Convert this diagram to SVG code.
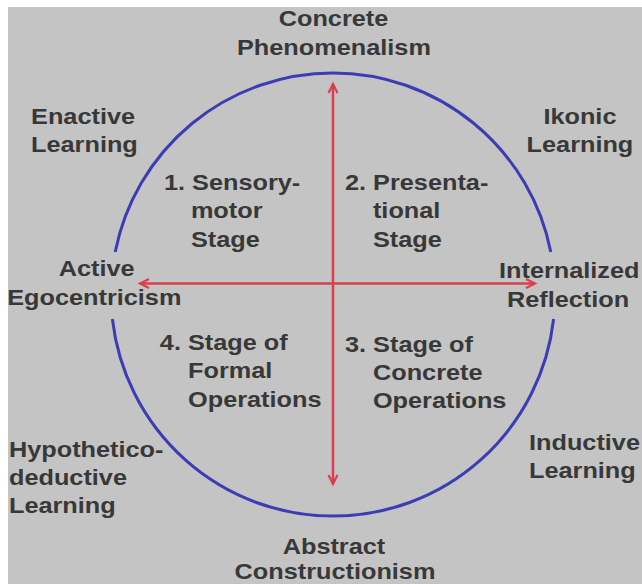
<svg xmlns="http://www.w3.org/2000/svg" width="642" height="584" viewBox="0 0 642 584">
<style>
text{font-family:"Liberation Sans",Arial,sans-serif;font-size:22px;font-weight:bold;fill:#383838}
.m{text-anchor:middle}
.arc{fill:none;stroke:#3c3cb4;stroke-width:3}
.axis{stroke:#d8404e;stroke-width:2.5;fill:none}
</style>
<defs>
<marker id="ah" markerUnits="userSpaceOnUse" markerWidth="14" markerHeight="14" refX="11" refY="6" orient="auto-start-reverse">
<path d="M2,1.5 L11,6 L2,10.5" fill="none" stroke="#d8404e" stroke-width="2.2"/>
</marker>
</defs>
<rect width="642" height="584" fill="#ffffff"/>
<rect x="8" y="7" width="634" height="577" fill="#c4c4c4"/>
<g id="cycle">
<path class="arc" d="M115.2,252 A222,222 0 0 1 550.8,252"/>
<path class="arc" d="M112.4,319 A222,222 0 0 0 553.6,319"/>
</g>
<g id="connectors">
<line class="axis" x1="333" y1="484" x2="333" y2="84" marker-end="url(#ah)" marker-start="url(#ah)"/>
<line class="axis" x1="140" y1="283.5" x2="535" y2="283.5" marker-end="url(#ah)" marker-start="url(#ah)"/>
</g>
<g transform="scale(1.15,1)">
<g id="concrete-phenomenalism"><text class="m" x="290" y="26">Concrete</text><text class="m" x="290.4" y="55">Phenomenalism</text></g>
<g id="enactive-learning"><text x="27" y="124">Enactive</text><text x="27" y="152">Learning</text></g>
<g id="ikonic-learning"><text class="m" x="504.3" y="124">Ikonic</text><text class="m" x="504.3" y="152">Learning</text></g>
<g id="stage1"><text x="142.6" y="190">1. Sensory-</text><text x="166" y="218">motor</text><text x="166" y="247">Stage</text></g>
<g id="stage2"><text x="300" y="190">2. Presenta-</text><text x="324.3" y="218">tional</text><text x="324.3" y="247">Stage</text></g>
<g id="active-egocentricism"><text class="m" x="84" y="276">Active</text><text class="m" x="82" y="305">Egocentricism</text></g>
<g id="internalized-reflection"><text class="m" x="495" y="278">Internalized</text><text class="m" x="494" y="307">Reflection</text></g>
<g id="stage4"><text x="139" y="350">4. Stage of</text><text x="163.5" y="378">Formal</text><text x="163.5" y="407">Operations</text></g>
<g id="stage3"><text x="300" y="352">3. Stage of</text><text x="324.3" y="380">Concrete</text><text x="324.3" y="408">Operations</text></g>
<g id="hypothetico-deductive-learning"><text x="7.8" y="457">Hypothetico-</text><text x="7.8" y="485">deductive</text><text x="7.8" y="513">Learning</text></g>
<g id="inductive-learning"><text x="460" y="450">Inductive</text><text x="460" y="478">Learning</text></g>
<g id="abstract-constructionism"><text class="m" x="290.4" y="554">Abstract</text><text class="m" x="291.3" y="579">Constructionism</text></g>
</g>
</svg>
